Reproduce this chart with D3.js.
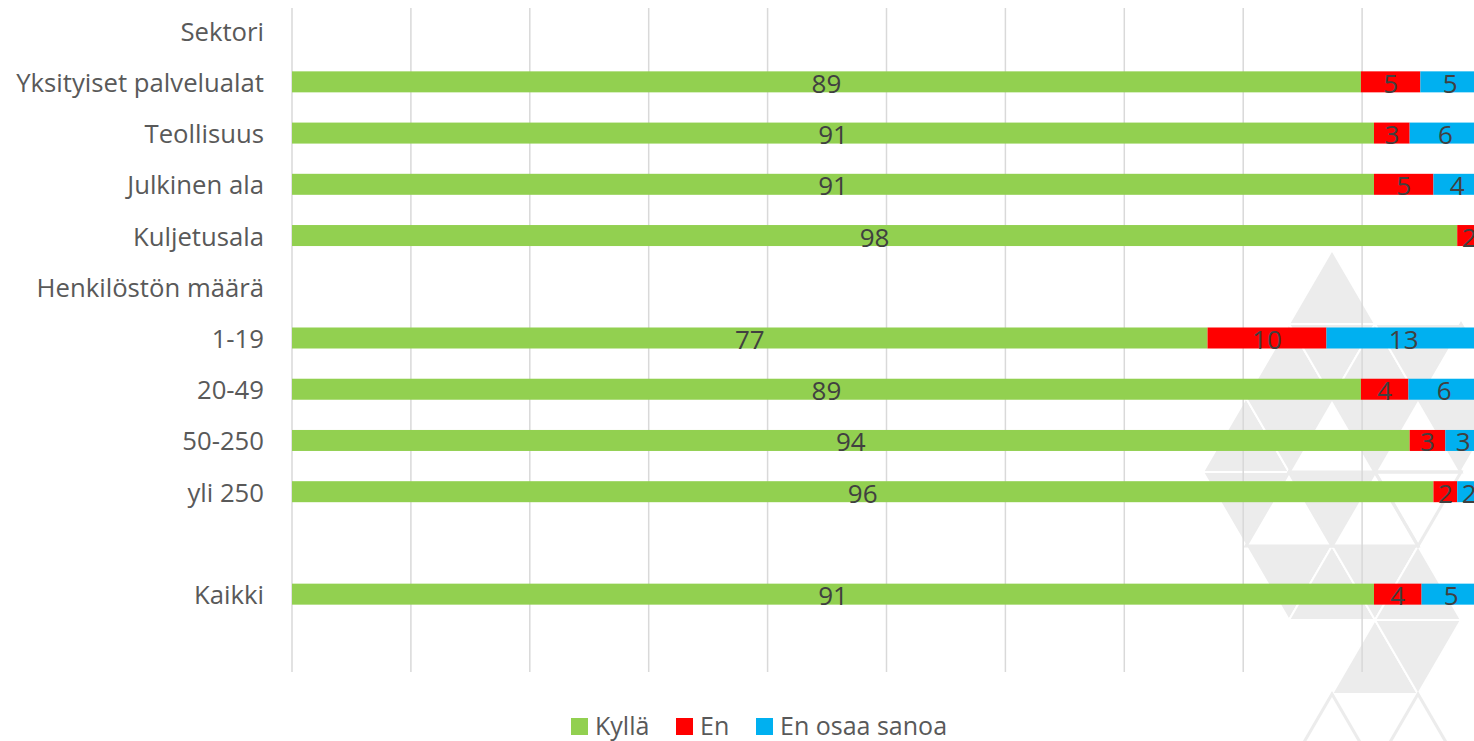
<!DOCTYPE html>
<html>
<head>
<meta charset="utf-8">
<script src="https://cdn.jsdelivr.net/npm/d3@7"></script>
<style>
  body { margin: 0; background: #fff; }
  svg { display: block; }
</style>
</head>
<body>
<div id="chart"></div>
<script>
// Categories top to bottom ("" rows are spacer rows in the original chart)
var categories = ["Sektori", "Yksityiset palvelualat", "Teollisuus", "Julkinen ala", "Kuljetusala",
  "Henkilöstön määrä", "1-19", "20-49", "50-250", "yli 250", "", "Kaikki", ""];

// percentages, null = no bar on that row
var kylla = [null, 89.9, 91, 91, 98, null, 77, 89.9, 94, 96, null, 91, null];
var en    = [null, 5, 3, 5, 2, null, 10, 4, 3, 2, null, 4, null];
var eos   = [null, 5, 6, 4, 0, null, 13, 6, 3, 2, null, 5, null];

var seriesNames = ["Kyllä", "En", "En osaa sanoa"];
var seriesColors = ["#92d050", "#ff0000", "#00b0f0"];
var xTicks = [0, 10, 20, 30, 40, 50, 60, 70, 80, 90, 100];

var width = 1474, height = 741;

var svg = d3.select("#chart")
  .append("svg")
  .attr("width", width)
  .attr("height", height);

// background watermark (triangle lattice)
var wm = svg.append("g");
var tx0 = 1332, ty0 = 250, th = 74, tw = 43;
function tri(k, c, dir) {
  var x = tx0 + c * tw, yA = ty0 + k * th, yB = yA + th;
  if (dir == "u") return [[x, yA], [x - tw, yB], [x + tw, yB]];
  return [[x - tw, yA], [x + tw, yA], [x, yB]];
}
var filled = [[0,0,"u"], [1,-1,"u"], [1,0,"d"], [1,1,"u"], [1,2,"d"],
  [2,-2,"u"], [2,-1,"d"], [2,1,"d"], [2,3,"d"],
  [3,-2,"d"], [3,0,"d"],
  [4,-1,"d"], [4,0,"u"], [4,1,"d"], [4,2,"u"],
  [5,1,"u"], [5,2,"d"]];
var outlined = [[6,0,"u"], [6,2,"u"], [2,0,"u"], [2,2,"u"], [3,-1,"u"], [3,1,"u"], [3,2,"d"], [1,3,"u"]];
wm.selectAll("polygon.f")
  .data(filled)
  .enter()
  .append("polygon")
  .attr("points", d => tri(d[0], d[1], d[2]).join(" "))
  .attr("fill", "#ececec")
  .attr("stroke", "#ffffff")
  .attr("stroke-width", 2);
wm.selectAll("polygon.o")
  .data(outlined)
  .enter()
  .append("polygon")
  .attr("points", d => tri(d[0], d[1], d[2]).join(" "))
  .attr("fill", "none")
  .attr("stroke", "#ececec")
  .attr("stroke-width", 3);

var x = d3.scaleLinear().domain([0, 100]).range([292, 1481]);
var y = d3.scaleBand().domain(d3.range(categories.length)).range([5, 671]);
var barH = 21;

// vertical gridlines
svg.append("g")
  .selectAll("line")
  .data(xTicks)
  .enter()
  .append("line")
  .attr("x1", d => x(d))
  .attr("x2", d => x(d))
  .attr("y1", 8)
  .attr("y2", 672)
  .attr("stroke", "#d9d9d9")
  .attr("stroke-width", 1.5);

// category labels
svg.append("g")
  .selectAll("text")
  .data(categories)
  .enter()
  .append("text")
  .text(d => d)
  .attr("x", 264)
  .attr("y", (d, i) => y(i) + y.bandwidth() / 2 + 10)
  .attr("text-anchor", "end")
  .attr("font-family", "Open Sans")
  .attr("font-size", "25.7px")
  .attr("fill", "#595959");

// build stacked segments
var segs = [];
var cols = [kylla, en, eos];
for (var i = 0; i < categories.length; i++) {
  if (kylla[i] == null) continue;
  var start = 0;
  for (var s = 0; s < cols.length; s++) {
    var v = cols[s][i];
    if (v > 0) segs.push({ row: i, s: s, x0: start, x1: start + v, v: v });
    start += v;
  }
}

var bars = svg.append("g");
bars.selectAll("rect")
  .data(segs)
  .enter()
  .append("rect")
  .attr("x", d => x(d.x0))
  .attr("width", d => x(d.x1) - x(d.x0))
  .attr("y", d => y(d.row) + y.bandwidth() / 2 - barH / 2)
  .attr("height", barH)
  .attr("fill", d => seriesColors[d.s]);

// value labels (original shows the whole-number part)
bars.selectAll("text")
  .data(segs)
  .enter()
  .append("text")
  .text(d => Math.floor(d.v))
  .attr("x", d => (x(d.x0) + x(d.x1)) / 2)
  .attr("y", d => y(d.row) + y.bandwidth() / 2 + 11)
  .attr("text-anchor", "middle")
  .attr("font-family", "Open Sans")
  .attr("font-size", "26px")
  .attr("fill", "#404040");

// legend
var legX = [571, 676, 756];
var leg = svg.append("g");
leg.selectAll("rect")
  .data(seriesNames)
  .enter()
  .append("rect")
  .attr("x", (d, i) => legX[i])
  .attr("y", 718)
  .attr("width", 17)
  .attr("height", 17)
  .attr("fill", (d, i) => seriesColors[i]);
leg.selectAll("text")
  .data(seriesNames)
  .enter()
  .append("text")
  .text(d => d)
  .attr("x", (d, i) => legX[i] + 24)
  .attr("y", 735)
  .attr("font-family", "Open Sans")
  .attr("font-size", "25px")
  .attr("fill", "#595959");
</script>
</body>
</html>
